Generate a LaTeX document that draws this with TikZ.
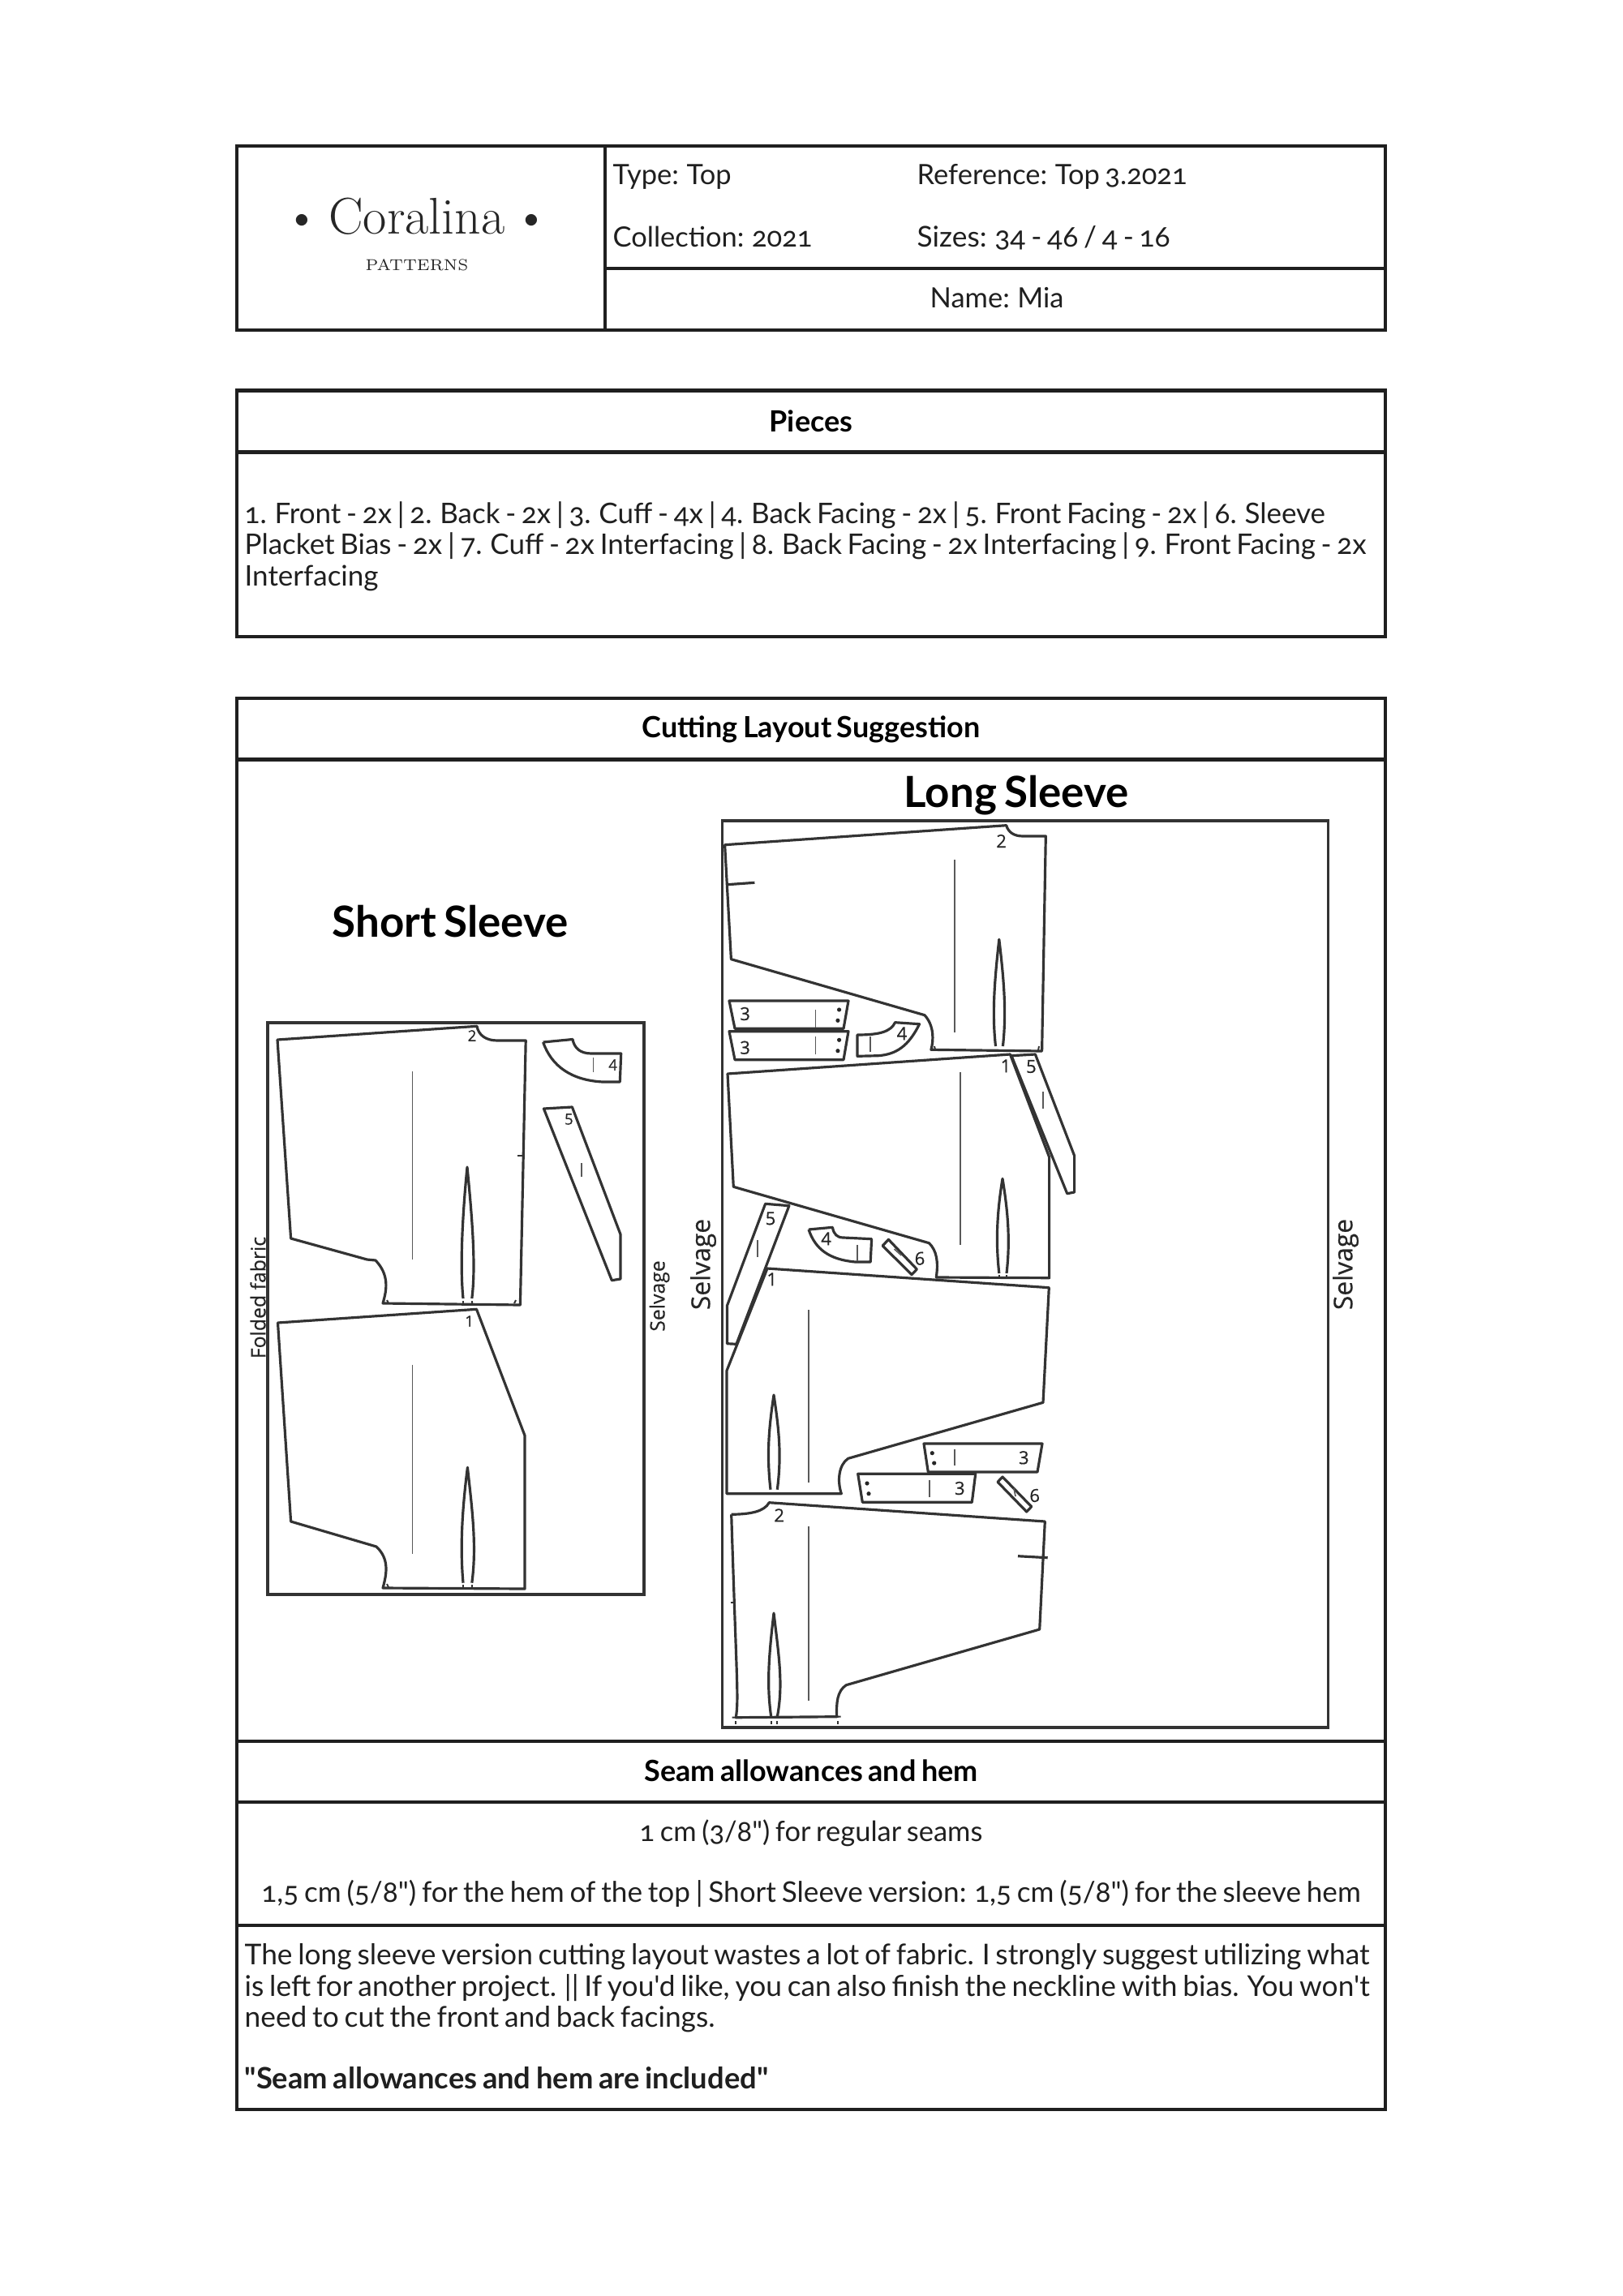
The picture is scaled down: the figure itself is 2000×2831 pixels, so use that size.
\documentclass[tikz,border=0pt]{standalone}
\usepackage{fontspec}
\newfontfamily\bodyfont[Numbers=OldStyle,WordSpace=0.75]{Lato}
\newfontfamily\markfont[FakeBold=0.5]{Open Sans}
\usepackage{tikz}

\begin{document}
\begin{tikzpicture}[x=0.0105cm,y=-0.0105cm]

\tikzstyle{tablebox}=[line width=1.2pt,draw=black!88]
\tikzstyle{patline}=[line width=0.95pt,draw=black!80,line join=round]
\tikzstyle{grainline}=[line width=0.5pt,draw=black!65]
\tikzstyle{markline}=[line width=0.6pt,draw=black!80]
\tikzstyle{fabricbox}=[line width=1pt,draw=black!80]
\tikzstyle{celltext}=[inner sep=0pt,anchor=west,font=\bodyfont\fontsize{10.3}{11.45}\selectfont,text=black!88]
\tikzstyle{cellhead}=[inner sep=0pt,font=\bodyfont\bfseries\fontsize{10.75}{12}\selectfont,text=black]
\tikzstyle{parabox}=[inner sep=0pt,anchor=north west,align=left,font=\bodyfont\fontsize{10.45}{11.45}\selectfont,text=black!88]
\tikzstyle{layouthead}=[inner sep=0pt,font=\bodyfont\bfseries\fontsize{15.8}{17}\selectfont,text=black]
\tikzstyle{piecenum}=[inner sep=0pt,font=\markfont\fontsize{5.6}{6}\selectfont,text=black!85]
\tikzstyle{piecelong}=[inner sep=0pt,font=\markfont\fontsize{6.6}{7}\selectfont,text=black!85]
\tikzstyle{sidelabel}=[inner sep=0pt,rotate=90,font=\markfont\fontsize{7.4}{8}\selectfont,text=black!85]
\tikzstyle{sidelong}=[inner sep=0pt,rotate=90,font=\markfont\fontsize{9.5}{10}\selectfont,text=black!85]

\useasboundingbox (0,0) rectangle (2000,2831);

\draw[tablebox] (292,180.5) rectangle (1708,407.5);
\draw[tablebox] (746,180.5) -- (746,407.5);
\draw[tablebox] (746,331) -- (1708,331);
\node[inner sep=0pt,font=\fontsize{19}{20}\selectfont,text=black!85] (brand) at (514,267) {\textbullet\hspace{3pt}Coralina\hspace{3pt}\textbullet};
\node[inner sep=0pt,font=\fontsize{5.8}{8}\selectfont,text=black!85] (brandsub) at (514,327) {PATTERNS};
\node[celltext] (type) at (755,218) {Type: Top};
\node[celltext] (reference) at (1130,218) {Reference: Top 3.2021};
\node[celltext] (collection) at (755,292) {Collection: 2021};
\node[celltext,font=\bodyfont\fontsize{10.55}{11.45}\selectfont] (sizes) at (1130,293) {Sizes: 34 - 46 / 4 - 16};
\node[celltext] (name) at (1146,367) {Name: Mia};

\draw[tablebox] (292,481.5) rectangle (1708,785);
\draw[tablebox] (292,557.5) -- (1708,557.5);
\node[cellhead] (pieces) at (1000,519) {Pieces};
\node[parabox] (piecelist) at (301,618) {1. Front - 2x | 2. Back - 2x | 3. Cuff - 4x | 4. Back Facing - 2x | 5. Front Facing - 2x | 6. Sleeve\\Placket Bias - 2x | 7. Cuff - 2x Interfacing | 8. Back Facing - 2x Interfacing | 9. Front Facing - 2x\\Interfacing};

\draw[tablebox] (292,861) rectangle (1708,2600.5);
\draw[tablebox] (292,936.5) -- (1708,936.5);
\draw[tablebox] (292,2146.5) -- (1708,2146.5);
\draw[tablebox] (292,2222) -- (1708,2222);
\draw[tablebox] (292,2374) -- (1708,2374);
\node[cellhead] (cutting) at (1000,899) {Cutting Layout Suggestion};
\node[cellhead] (seamhead) at (1000,2183) {Seam allowances and hem};
\node[celltext,anchor=center] (seamone) at (1000,2260) {1 cm (3/8") for regular seams};
\node[celltext,anchor=center,font=\bodyfont\fontsize{10.5}{11.45}\selectfont] (seamtwo) at (1000,2335) {1,5 cm (5/8") for the hem of the top | Short Sleeve version: 1,5 cm (5/8") for the sleeve hem};
\node[parabox,font=\bodyfont\fontsize{10.55}{11.45}\selectfont] (advice) at (301,2396) {The long sleeve version cutting layout wastes a lot of fabric. I strongly suggest utilizing what\\is left for another project. || If you'd like, you can also finish the neckline with bias. You won't\\need to cut the front and back facings.};
\node[celltext,font=\bodyfont\bfseries\fontsize{10.85}{12}\selectfont] (included) at (301,2562) {"Seam allowances and hem are included"};

\node[layouthead] (shorthead) at (555,1136) {Short Sleeve};
\node[layouthead] (longhead) at (1253,981) {Long Sleeve};
\node[sidelabel] (folded) at (318,1600) {Folded fabric};
\node[sidelabel] (selvageshort) at (813,1598) {Selvage};
\node[sidelong] (selvageleft) at (867,1559) {Selvage};
\node[sidelong] (selvageright) at (1659,1559) {Selvage};

\draw[fabricbox] (330,1261) rectangle (794,1966);
\draw[fabricbox] (890.5,1012) rectangle (1637.5,2130);

\draw[patline] (342,1282) -- (588,1265.3) .. controls (590,1277) and (600,1283) .. (613,1283) -- (648.2,1283) -- (641.4,1609) -- (472,1607) .. controls (477,1590) and (480,1572) .. (463,1554) -- (452.5,1553) -- (358.6,1527) -- cycle;
\draw[grainline] (508.6,1321.4) -- (508.6,1552.8);
\draw[patline] (571,1601) .. controls (567,1561) and (570,1500) .. (576,1439) .. controls (582,1500) and (587,1561) .. (581.8,1601);
\draw[markline] (571,1604) -- (571,1608);
\draw[markline] (581.8,1604) -- (581.8,1608);
\draw[markline] (638,1425.4) -- (643.5,1425.4);
\draw[markline] (477,1603) -- (479,1607);
\draw[markline] (636,1603) -- (634,1607);
\node[piecenum] (backshort) at (582,1277) {2};

\draw[patline] (669.6,1285) -- (706,1281.5) .. controls (708,1292) and (715,1299) .. (729,1299) -- (765.7,1299) -- (764.3,1334) -- (743,1334) .. controls (705,1332) and (680,1315) .. (669.6,1285);
\draw[grainline] (731.4,1304) -- (731.4,1322);
\node[piecenum] (facingbackshort) at (755.7,1313) {4};

\draw[patline] (670.4,1367) -- (705.4,1365) -- (765,1522) -- (765,1577) -- (754.3,1578.7) -- cycle;
\draw[grainline] (716.8,1434) -- (716.8,1451);
\node[piecenum] (facingfrontshort) at (701.4,1380) {5};

\draw[patline] (342.5,1631) -- (587.5,1614.3) -- (647,1770) -- (647,1959) -- (472,1958) .. controls (477,1940) and (480,1922) .. (464,1907) -- (358.6,1876) -- cycle;
\draw[grainline] (508.6,1682.7) -- (508.6,1915.7);
\draw[patline] (571,1951.7) .. controls (567,1906) and (570,1860) .. (576.4,1809.3) .. controls (582,1860) and (588,1906) .. (581.8,1951.7);
\draw[markline] (571,1954) -- (571,1958);
\draw[markline] (581.8,1954) -- (581.8,1958);
\draw[markline] (477,1953) -- (479,1957);
\node[piecenum] (frontshort) at (578.6,1629) {1};

\draw[patline] (893.6,1041.7) -- (1240.7,1017.7) .. controls (1243,1026) and (1250,1031) .. (1261,1031) -- (1289.3,1031) -- (1284.6,1296) -- (1147.9,1294.3) .. controls (1151,1283) and (1152,1265) .. (1140,1251.7) -- (901.4,1182.7) -- cycle;
\draw[patline] (897,1090.7) -- (930.4,1088.3);
\draw[grainline] (1177,1060) -- (1177,1273.3);
\draw[patline] (1227.5,1290) .. controls (1223,1250) and (1226,1210) .. (1231.8,1158.3) .. controls (1238,1210) and (1241,1250) .. (1236.4,1290);
\draw[markline] (1152,1290) -- (1153,1294);
\draw[markline] (1281,1290) -- (1280,1295);
\node[piecelong] (backone) at (1234.6,1037) {2};

\draw[patline] (899,1234) -- (1046,1234) -- (1040,1268.3) -- (906,1268.3) -- cycle;
\draw[grainline] (1005.4,1245) -- (1005.4,1266.7);
\fill[black!85] (1034.6,1245) circle (2.6) (1032.9,1258.3) circle (2.6);
\node[piecelong] (cuffone) at (918.6,1250) {3};
\draw[patline] (899,1271.7) -- (1046,1271.7) -- (1040,1306.7) -- (906,1306.7) -- cycle;
\draw[grainline] (1005.4,1278.3) -- (1005.4,1300);
\fill[black!85] (1034.6,1282.3) circle (2.6) (1032.9,1295.7) circle (2.6);
\node[piecelong] (cufftwo) at (918.6,1291.7) {3};

\draw[patline] (1057,1276) .. controls (1085,1276) and (1098,1272) .. (1103.6,1260.7) -- (1133.6,1262.7) .. controls (1120,1290) and (1105,1300) .. (1082.9,1301.7) -- (1057,1302.3) -- cycle;
\draw[grainline] (1073,1278.3) -- (1073,1296.7);
\node[piecelong] (facingbackone) at (1112,1274.3) {4};

\draw[patline] (897,1324) -- (1245.4,1300) -- (1293.6,1426.7) -- (1293.6,1575.7) -- (1154.3,1575) .. controls (1157,1556) and (1155,1542) .. (1145.4,1532.7) -- (904.3,1463.3) -- cycle;
\draw[grainline] (1184.3,1321.7) -- (1184.3,1535);
\draw[patline] (1231.8,1570) .. controls (1227,1527) and (1230,1490) .. (1236,1453.3) .. controls (1242,1490) and (1246,1527) .. (1241,1570);
\draw[markline] (1231.8,1572) -- (1231.8,1575);
\draw[markline] (1241,1572) -- (1241,1575);
\node[piecelong] (frontone) at (1240,1314.3) {1};

\draw[patline] (1247,1301.7) -- (1276.4,1300) -- (1324.6,1425) -- (1324.6,1470) -- (1315.7,1471.7) -- cycle;
\draw[grainline] (1285.7,1346) -- (1285.7,1367.3);
\node[piecelong] (facingfrontone) at (1271.4,1315) {5};

\draw[patline] (943.6,1484.3) -- (972.9,1486.7) -- (907.9,1657.3) -- (896.4,1656.7) -- (896.4,1610) -- cycle;
\draw[grainline] (934.3,1529.3) -- (934.3,1550);
\node[piecelong] (facingfronttwo) at (950,1502.3) {5};

\draw[patline] (997,1516) -- (1026.4,1513.3) .. controls (1028,1522) and (1032,1526) .. (1040,1526) -- (1074.6,1527.7) -- (1073.2,1556) -- (1054.3,1556) .. controls (1022,1553) and (1005,1540) .. (997,1516);
\draw[grainline] (1056.8,1535) -- (1056.8,1555);
\node[piecelong] (facingbacktwo) at (1018.6,1527.3) {4};

\draw[patline] (1095.4,1528.3) -- (1088.2,1536) -- (1124,1571.7) -- (1130.4,1565) -- cycle;
\draw[grainline] (1102.5,1540) -- (1111.4,1548);
\node[piecelong] (bindingone) at (1134,1551.7) {6};

\draw[patline] (946,1564) -- (1293.3,1587.7) -- (1286,1729.3) -- (1045.7,1798.3) .. controls (1034,1806) and (1032,1826) .. (1037.3,1841.7) -- (896,1841.7) -- (896,1690) -- cycle;
\draw[grainline] (997.3,1615) -- (997.3,1828.3);
\draw[patline] (950,1836.7) .. controls (945,1793) and (948,1760) .. (954,1720) .. controls (960,1760) and (964,1793) .. (958.3,1836.7);
\node[piecelong] (fronttwo) at (951.7,1577.3) {1};

\draw[patline] (1139,1780) -- (1285,1780) -- (1279,1815) -- (1144.3,1815) -- cycle;
\draw[grainline] (1177,1786.7) -- (1177,1806.7);
\fill[black!85] (1149.3,1791.7) circle (2.6) (1151.7,1804) circle (2.6);
\node[piecelong] (cuffthree) at (1262.3,1797.3) {3};
\draw[patline] (1057.7,1817.3) -- (1202.7,1817.3) -- (1198.3,1852.3) -- (1063.3,1852.3) -- cycle;
\draw[grainline] (1146,1825) -- (1146,1845.7);
\fill[black!85] (1069,1829) circle (2.6) (1071,1841.7) circle (2.6);
\node[piecelong] (cufffour) at (1183.3,1835) {3};

\draw[patline] (1236,1821) -- (1230,1827.3) -- (1265.7,1864) -- (1271.7,1857.7) -- cycle;
\draw[grainline] (1250,1835) -- (1252,1845);
\node[piecelong] (bindingtwo) at (1275.7,1844) {6};

\draw[patline] (901.7,1867.3) .. controls (925,1867) and (942,1864) .. (948.3,1852.7) -- (1288.3,1876) -- (1281.7,2009) -- (1043.3,2077.7) .. controls (1032,2085) and (1031,2100) .. (1031.7,2116.7) -- (907.3,2117.7) .. controls (911,2095) and (908,2070) .. (901.7,1867.3);
\draw[patline] (1255,1918.7) -- (1291.7,1920.7);
\draw[markline] (902.7,2117.7) -- (1036.7,2116.7);
\draw[markline] (900.7,1976) -- (905,1976);
\draw[grainline] (997.3,1882.3) -- (997.3,2096.7);
\draw[patline] (950.7,2116.7) .. controls (945,2077) and (948,2040) .. (954,1989) .. controls (960,2040) and (966,2077) .. (958.3,2116.7);
\draw[markline] (907.3,2122) -- (907.3,2126);
\draw[markline] (950.7,2122) -- (950.7,2126);
\draw[markline] (958.3,2122) -- (958.3,2126);
\draw[markline] (1033,2122) -- (1033,2126);
\node[piecelong] (backtwo) at (960.7,1868.3) {2};

\end{tikzpicture}
\end{document}
